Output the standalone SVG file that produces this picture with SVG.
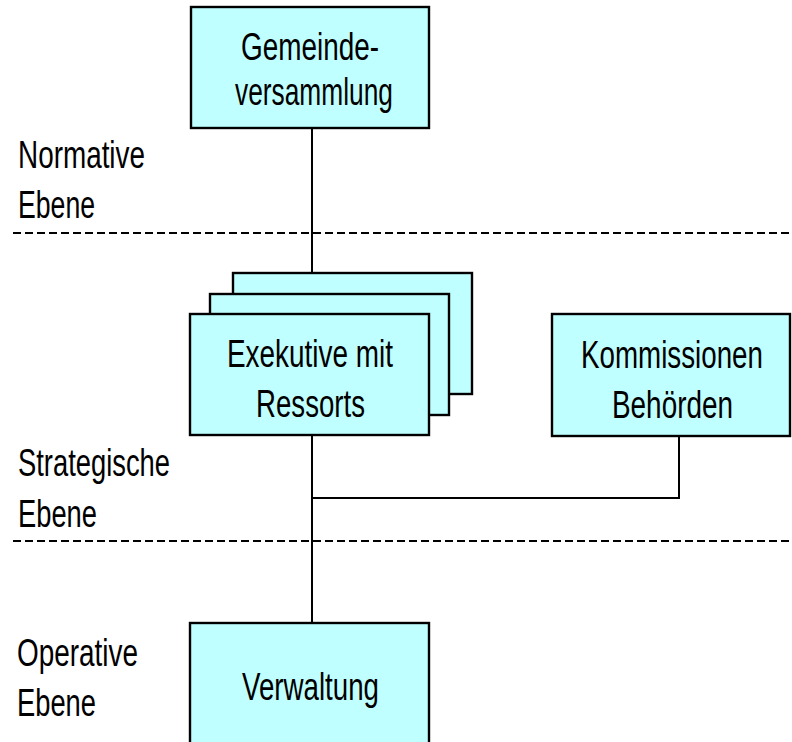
<svg xmlns="http://www.w3.org/2000/svg" width="792" height="742" viewBox="0 0 792 742">
<style>
.box{fill:#C0FFFF;stroke:#000;stroke-width:2.4}
.t{font-family:"Liberation Sans",Arial,sans-serif;font-size:38px;fill:#000;text-anchor:middle}
.l{font-family:"Liberation Sans",Arial,sans-serif;font-size:38px;fill:#000}
.c{fill:none;stroke:#000;stroke-width:2}
.d{fill:none;stroke:#000;stroke-width:2.2;stroke-dasharray:8 4}
</style>
<rect width="792" height="742" fill="#fff"/>
<g id="levels">
<line class="d" x1="13" y1="233" x2="790" y2="233"/>
<line class="d" x1="13" y1="541" x2="790" y2="541"/>
<text class="l" x="18" y="168" textLength="127" lengthAdjust="spacingAndGlyphs">Normative</text>
<text class="l" x="18" y="218" textLength="77" lengthAdjust="spacingAndGlyphs">Ebene</text>
<text class="l" x="18" y="476" textLength="152" lengthAdjust="spacingAndGlyphs">Strategische</text>
<text class="l" x="18" y="527" textLength="79" lengthAdjust="spacingAndGlyphs">Ebene</text>
<text class="l" x="17" y="666" textLength="121" lengthAdjust="spacingAndGlyphs">Operative</text>
<text class="l" x="17" y="716" textLength="79" lengthAdjust="spacingAndGlyphs">Ebene</text>
</g>
<g id="connectors">
<line class="c" x1="312" y1="128" x2="312" y2="273"/>
<line class="c" x1="312" y1="435" x2="312" y2="623"/>
<polyline class="c" points="312,498 679,498 679,436"/>
</g>
<g id="gemeindeversammlung">
<rect class="box" x="191" y="7" width="238" height="121"/>
<text class="t" x="310" y="60" textLength="138" lengthAdjust="spacingAndGlyphs">Gemeinde-</text>
<text class="t" x="314" y="105" textLength="158" lengthAdjust="spacingAndGlyphs">versammlung</text>
</g>
<g id="exekutive">
<rect class="box" x="233" y="273" width="239" height="121"/>
<rect class="box" x="210" y="294" width="239" height="121"/>
<rect class="box" x="190" y="314" width="239" height="121"/>
<text class="t" x="310" y="367" textLength="166" lengthAdjust="spacingAndGlyphs">Exekutive mit</text>
<text class="t" x="310.5" y="417" textLength="109" lengthAdjust="spacingAndGlyphs">Ressorts</text>
</g>
<g id="kommissionen">
<rect class="box" x="552" y="314" width="238" height="122"/>
<text class="t" transform="translate(672 368) scale(0.73 1)" x="0" y="0">Kommissionen</text>
<text class="t" x="672.5" y="418" textLength="121" lengthAdjust="spacingAndGlyphs">Behörden</text>
</g>
<g id="verwaltung">
<rect class="box" x="190" y="623" width="239" height="140"/>
<text class="t" x="310.5" y="700" textLength="137" lengthAdjust="spacingAndGlyphs">Verwaltung</text>
</g>
</svg>
